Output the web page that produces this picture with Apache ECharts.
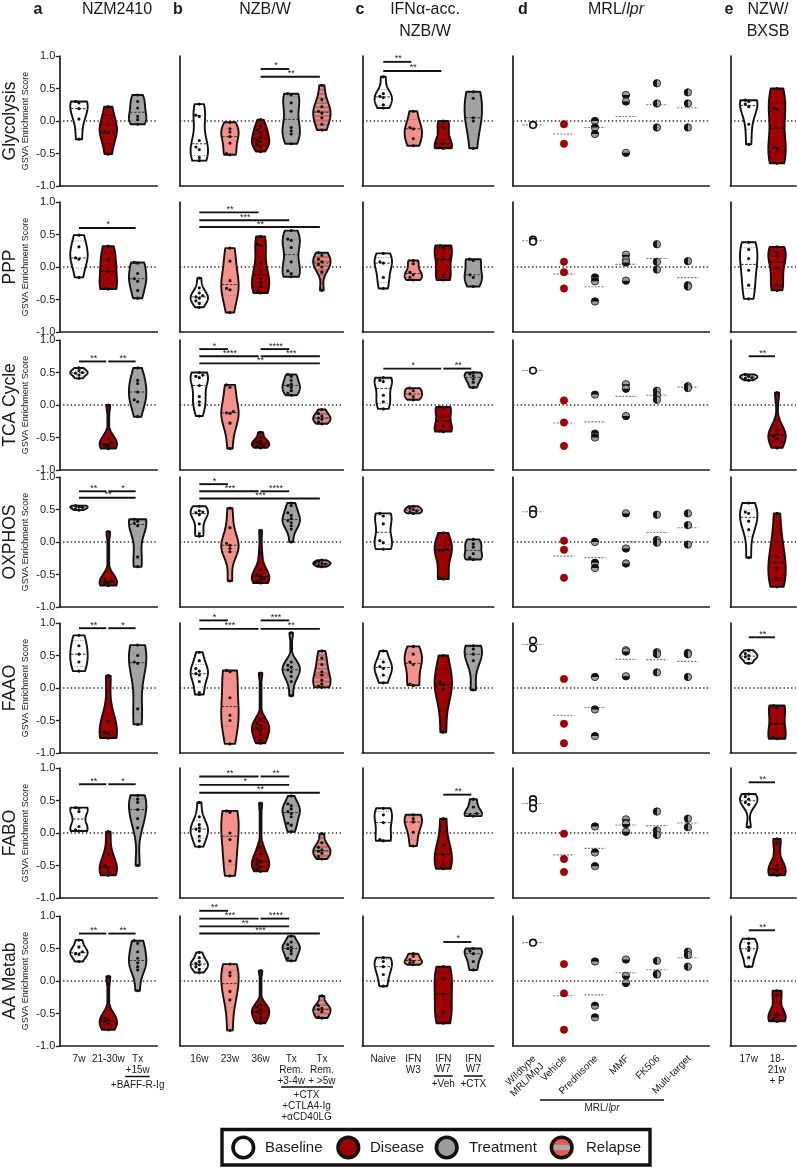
<!DOCTYPE html>
<html><head><meta charset="utf-8">
<script src="https://cdn.jsdelivr.net/npm/echarts/dist/echarts.min.js"></script>
<style>html,body{margin:0;padding:0;background:#fff}#c{width:797px;height:1168px}</style>
</head><body><div id="c"></div><script>
// ---------------- DATA ----------------
const rowNames = ['Glycolysis', 'PPP', 'TCA Cycle', 'OXPHOS', 'FAAO', 'FABO', 'AA Metab'];
const colHeaders = ['NZM2410', 'NZB/W', 'IFNα-acc.\nNZB/W', 'MRL/lpr', 'NZW/\nBXSB'];
const groupsA = ['7w', '21-30w', 'Tx'];
const groupsB = ['16w', '23w', '36w', 'Tx Rem. +3-4w', 'Tx Rem. + >5w'];
const groupsC = ['Naive', 'IFN W3', 'IFN W7 +Veh', 'IFN W7 +CTX'];
const groupsD = ['Wildtype MRL/MpJ', 'Vehicle', 'Prednisone', 'MMF', 'FK506', 'Multi-target'];
const groupsE = ['17w', '18-21w + P'];

// Glycolysis
const gly_a = [[0.30,0.28,0.19,0.03,-0.28],[0.22,-0.05,-0.17,-0.18,-0.51],[0.40,0.30,0.20,0.07,0.02,-0.05]];
const gly_b = [[0.26,0.09,0.07,-0.30,-0.40,-0.44,-0.56,-0.61],[-0.02,-0.12,-0.17,-0.24,-0.34,-0.50,-0.52],[0.02,-0.08,-0.14,-0.18,-0.24,-0.30,-0.32,-0.36,-0.40,-0.47],[0.42,0.40,0.28,0.15,-0.10,-0.15,-0.20,-0.35],[0.55,0.33,0.22,0.15,0.12,0.05,-0.05,-0.14]];
const gly_c = [[0.68,0.42,0.38,0.36,0.25,0.20],[0.15,-0.10,-0.12,-0.27,-0.38],[0.0,-0.10,-0.35,-0.40,-0.42],[0.45,0.35,0.05,0.0,-0.42]];
const gly_d = [[-0.06],[-0.05,-0.35],[0.0,-0.10,-0.20],[0.40,0.30,-0.49],[0.58,0.27,-0.10],[0.44,0.27,-0.10]];
const gly_e = [[0.32,0.30,0.26,0.22,-0.05,-0.36],[0.50,0.20,0.18,-0.40,-0.42,-0.65]];
// PPP
const ppp_a = [[0.49,0.31,0.14,0.12,-0.16],[0.32,0.11,-0.07,-0.33,-0.34],[0.07,0.06,-0.10,-0.18,-0.22,-0.36,-0.48]];
const ppp_b = [[-0.17,-0.32,-0.40,-0.44,-0.46,-0.48,-0.52,-0.56,-0.62],[0.29,0.09,-0.21,-0.33,-0.35,-0.70],[0.47,0.35,0.33,0.06,-0.06,-0.18,-0.24,-0.30,-0.38,-0.40],[0.56,0.43,0.41,0.30,0.08,-0.06,-0.10,-0.15],[0.22,0.18,0.12,0.08,0.04,0.0,-0.08,-0.36]];
const ppp_c = [[0.21,0.08,0.06,-0.16,-0.33],[0.10,0.05,-0.08,-0.12,-0.16,-0.20],[0.33,0.29,0.12,-0.12,-0.20],[0.12,0.10,-0.12,-0.16,-0.30]];
const ppp_d = [[0.42,0.39],[0.08,-0.08,-0.33],[-0.16,-0.22,-0.53],[0.19,0.11,0.07,-0.21],[0.35,0.08,-0.04],[0.09,-0.28,-0.30]];
const ppp_e = [[0.38,0.27,0.13,-0.05,-0.28,-0.49],[0.31,0.22,0.17,-0.02,-0.27,-0.36]];
// TCA Cycle
const tca_a = [[0.57,0.53,0.50,0.49,0.46,0.41],[0.0,-0.52,-0.58,-0.61,-0.62,-0.67],[0.57,0.38,0.33,0.20,0.08,0.05,-0.18]];
const tca_b = [[0.50,0.46,0.44,0.42,0.30,0.13,0.05,0.0,-0.17],[0.31,0.27,-0.10,-0.12,-0.13,-0.28,-0.67],[-0.42,-0.50,-0.55,-0.57,-0.60,-0.62,-0.64,-0.66],[0.47,0.44,0.38,0.32,0.30,0.27,0.22,0.18,0.15],[-0.07,-0.13,-0.17,-0.20,-0.22,-0.26,-0.29]];
const tca_c = [[0.42,0.38,0.36,0.15,0.05,-0.06],[0.26,0.22,0.17,0.13,0.08],[-0.03,-0.04,-0.17,-0.32,-0.40,-0.41],[0.50,0.48,0.45,0.40,0.35,0.27]];
const tca_d = [[0.53],[0.07,-0.27,-0.63],[0.16,-0.44,-0.50],[0.32,0.25,-0.17],[0.22,0.15,0.08],[0.29,0.26]];
const tca_e = [[0.47,0.45,0.44,0.42,0.41,0.38],[0.19,-0.38,-0.45,-0.48,-0.52,-0.66]];
// OXPHOS
const ox_a = [[0.56,0.55,0.54,0.53,0.51,0.49],[0.16,-0.58,-0.60,-0.62,-0.64,-0.67],[0.35,0.32,0.29,0.25,-0.23,-0.38]];
const ox_b = [[0.55,0.48,0.46,0.45,0.42,0.28,0.13,0.09],[0.52,0.22,-0.02,-0.05,-0.10,-0.15,-0.60],[0.18,-0.17,-0.42,-0.50,-0.53,-0.56,-0.58,-0.60,-0.63],[0.60,0.56,0.45,0.41,0.36,0.33,0.30,0.25,0.20,0.0],[-0.28,-0.30,-0.32,-0.33,-0.34,-0.36,-0.38]];
const ox_c = [[0.44,0.40,0.28,0.02,-0.01,-0.11],[0.55,0.52,0.50,0.48,0.46,0.44],[0.14,-0.11,-0.12,-0.13,-0.55,-0.57],[0.04,-0.03,-0.08,-0.18,-0.24,-0.27]];
const ox_d = [[0.50,0.43],[0.02,-0.12,-0.55],[0.0,-0.32,-0.40],[0.44,-0.10,-0.33],[0.42,0.03,-0.01],[0.44,0.26,-0.04]];
const ox_e = [[0.60,0.46,0.44,0.32,0.19,-0.24],[0.44,0.0,-0.23,-0.40,-0.56,-0.69]];
// FAAO
const faao_a = [[0.81,0.65,0.52,0.40,0.26],[0.19,-0.51,-0.68,-0.70,-0.77],[0.66,0.50,0.40,0.38,-0.32,-0.56]];
const faao_b = [[0.55,0.42,0.30,0.26,0.22,0.20,0.10,-0.07,-0.10],[0.27,0.25,-0.15,-0.42,-0.50,-0.86],[0.23,-0.48,-0.55,-0.58,-0.62,-0.66,-0.72,-0.80,-0.85],[0.85,0.40,0.35,0.32,0.28,0.25,0.18,0.10,-0.12],[0.57,0.46,0.36,0.25,0.20,0.12,0.06,0.03,0.01]];
const faao_c = [[0.57,0.40,0.33,0.30,0.20,0.08],[0.64,0.52,0.40,0.36,0.06,0.04],[0.50,0.09,0.05,-0.02,-0.68],[0.65,0.60,0.52,0.42,-0.03]];
const faao_d = [[0.73,0.61],[0.14,-0.55,-0.85],[0.17,-0.33,-0.74],[0.58,0.56,0.18],[0.55,0.52,0.24],[0.54,0.52,0.17]];
const faao_e = [[0.58,0.53,0.50,0.48,0.45,0.38],[-0.27,-0.30,-0.55,-0.76,-0.78]];
// FABO
const fabo_a = [[0.39,0.38,0.33,0.10,0.05,0.03],[0.02,-0.33,-0.51,-0.54,-0.60,-0.65],[0.58,0.52,0.47,0.36,0.22,0.08,-0.50]];
const fabo_b = [[0.47,0.25,0.13,0.08,0.06,0.03,-0.05,-0.12,-0.21],[0.34,0.32,0.0,-0.10,-0.43,-0.66],[0.46,-0.22,-0.32,-0.40,-0.44,-0.48,-0.52,-0.55,-0.59],[0.57,0.45,0.42,0.37,0.33,0.30,0.25,0.15,0.12,0.02],[-0.01,-0.15,-0.22,-0.26,-0.28,-0.31,-0.36,-0.40]];
const fabo_c = [[0.38,0.28,0.16,-0.10,-0.12],[0.28,0.22,0.17,0.01,-0.20],[0.22,-0.18,-0.33,-0.48,-0.55],[0.52,0.40,0.30,0.28,0.26]];
const fabo_d = [[0.52,0.46,0.38],[-0.01,-0.40,-0.60],[0.10,-0.30,-0.51],[0.21,0.14,0.02],[0.33,0.04,-0.03],[0.22,0.09]];
const fabo_e = [[0.60,0.56,0.52,0.47,0.44,0.09],[-0.09,-0.15,-0.50,-0.55,-0.58,-0.62,-0.65]];
// AA Metab
const aa_a = [[0.63,0.52,0.45,0.42,0.41,0.30],[0.07,-0.57,-0.60,-0.62,-0.66,-0.75],[0.62,0.58,0.45,0.35,0.28,0.22,0.17,-0.15]];
const aa_b = [[0.44,0.36,0.30,0.27,0.25,0.22,0.18,0.13],[0.26,0.13,0.08,-0.16,-0.29,-0.76],[0.16,-0.36,-0.40,-0.44,-0.47,-0.50,-0.55,-0.60,-0.65],[0.69,0.60,0.56,0.52,0.50,0.47,0.42,0.35,0.31],[-0.23,-0.38,-0.42,-0.44,-0.47,-0.55,-0.57]];
const aa_c = [[0.36,0.30,0.22,0.10,-0.08],[0.42,0.38,0.33,0.30,0.28,0.25],[0.22,0.04,-0.20,-0.48,-0.65],[0.50,0.46,0.42,0.30,0.17]];
const aa_d = [[0.59],[0.26,-0.19,-0.75],[0.30,-0.38,-0.56],[0.33,0.08,-0.03],[0.31,0.11,0.10],[0.45,0.40,0.22]];
const aa_e = [[0.65,0.58,0.52,0.47,0.36,0.22],[-0.15,-0.22,-0.50,-0.55,-0.58,-0.62]];

// significance brackets: [group1, group2, level, label]
const gly_b_sig = [[2,3,0.80,'*'],[2,4,0.68,'**']];
const gly_c_sig = [[0,1,0.91,'**'],[0,2,0.77,'**']];
const ppp_a_sig = [[0,2,0.60,'*']];
const ppp_b_sig = [[0,2,0.84,'**'],[0,3,0.72,'***'],[0,4,0.615,'**']];
const tca_a_sig = [[0,1,0.67,'**'],[1,2,0.67,'**']];
const tca_b_sig = [[0,1,0.86,'*'],[0,2,0.75,'****'],[0,4,0.64,'**'],[2,3,0.86,'****'],[2,4,0.75,'***']];
const tca_c_sig = [[0,2,0.56,'*'],[2,3,0.56,'**']];
const tca_e_sig = [[0,1,0.75,'**']];
const ox_a_sig = [[0,1,0.78,'**'],[1,2,0.78,'*'],[0,2,0.68,'**']];
const ox_b_sig = [[0,1,0.89,'*'],[0,2,0.78,'***'],[2,3,0.78,'****'],[0,4,0.67,'***']];
const faao_a_sig = [[0,1,0.92,'**'],[1,2,0.92,'*']];
const faao_b_sig = [[0,1,1.04,'*'],[0,2,0.91,'***'],[2,3,1.04,'***'],[2,4,0.91,'**']];
const faao_e_sig = [[0,1,0.78,'**']];
const fabo_a_sig = [[0,1,0.75,'**'],[1,2,0.75,'*']];
const fabo_b_sig = [[0,2,0.87,'**'],[2,3,0.87,'**'],[0,3,0.74,'*'],[0,4,0.62,'**']];
const fabo_c_sig = [[2,3,0.59,'**']];
const fabo_e_sig = [[0,1,0.78,'**']];
const aa_a_sig = [[0,1,0.73,'**'],[1,2,0.73,'**']];
const aa_b_sig = [[0,1,1.08,'**'],[0,2,0.96,'***'],[2,3,0.96,'****'],[0,3,0.84,'**'],[0,4,0.73,'***']];
const aa_c_sig = [[2,3,0.60,'*']];
const aa_e_sig = [[0,1,0.78,'**']];

const legendItems = ['Baseline', 'Disease', 'Treatment', 'Relapse'];

// ---------------- BUILD ----------------
const panels = [
  [gly_a, gly_b, gly_c, gly_d, gly_e],
  [ppp_a, ppp_b, ppp_c, ppp_d, ppp_e],
  [tca_a, tca_b, tca_c, tca_d, tca_e],
  [ox_a, ox_b, ox_c, ox_d, ox_e],
  [faao_a, faao_b, faao_c, faao_d, faao_e],
  [fabo_a, fabo_b, fabo_c, fabo_d, fabo_e],
  [aa_a, aa_b, aa_c, aa_d, aa_e]
];
const sigs = [
  [[], gly_b_sig, gly_c_sig, [], []],
  [ppp_a_sig, ppp_b_sig, [], [], []],
  [tca_a_sig, tca_b_sig, tca_c_sig, [], tca_e_sig],
  [ox_a_sig, ox_b_sig, [], [], []],
  [faao_a_sig, faao_b_sig, [], [], faao_e_sig],
  [fabo_a_sig, fabo_b_sig, fabo_c_sig, [], fabo_e_sig],
  [aa_a_sig, aa_b_sig, aa_c_sig, [], aa_e_sig]
];
const kinds = [
  ['base', 'dis', 'trt'],
  ['base', 'pink', 'dis', 'trt', 'rel'],
  ['base', 'pink', 'dis', 'trt'],
  ['wt', 'veh', 'hTB', 'hBT', 'hL', 'hL'],
  ['base', 'dis']
];
const FILL = { base: '#ffffff', dis: '#a00000', trt: '#a3a3a3', pink: '#f5908a', rel: '#ee5650' };
const STRIPE = '#a9a9a9';
const FONT = '"Liberation Sans", Arial, Helvetica, sans-serif';

const rowTop = [56, 202, 340, 477, 623, 768, 916];
const ROWH = 130;
const colX = [[59.3, 157.3], [180, 343.3], [362.3, 493.7], [513, 709.3], [730.3, 796]];
const xRange = [[-0.67, 2.67], [-0.63, 4.7], [-0.7, 3.68], [-0.645, 5.69], [-0.65, 1.67]];
const HW = 8.7, BW = 0.9;

function pct(s, p) {
  const n = s.length; let pos = p * (n + 1) - 1;
  pos = Math.max(0, Math.min(n - 1, pos));
  const lo = Math.floor(pos), f = pos - lo;
  return lo + 1 < n ? s[lo] + f * (s[lo + 1] - s[lo]) : s[lo];
}

function violinRender(groups, kds) {
  return function (params, api) {
    const i = params.dataIndex;
    const vals = groups[i].slice().sort((a, b) => a - b);
    const kind = kds[i];
    const cx = api.coord([i, 0])[0];
    const py = v => api.coord([i, v])[1];
    const ch = [];
    const n = vals.length, lo = vals[0], hi = vals[n - 1];
    const mean = vals.reduce((s, v) => s + v, 0) / n;
    const sd = Math.sqrt(vals.reduce((s, v) => s + (v - mean) * (v - mean), 0) / (n - 1));
    const iqr = pct(vals, 0.75) - pct(vals, 0.25);
    let sg = Math.min(sd, iqr / 1.34); if (!(sg > 0)) sg = sd;
    let h = Math.max(BW * sg * Math.pow(n, -0.2), 0.025);
    const dens = v => vals.reduce((s, x) => s + Math.exp(-0.5 * ((v - x) / h) * ((v - x) / h)), 0);
    const N = 60; let dmax = 0; const samp = [];
    for (let k = 0; k <= N; k++) { const v = lo + (hi - lo) * k / N; const d = dens(v); samp.push([v, d]); if (d > dmax) dmax = d; }
    const wAt = v => Math.max(0.9, HW * dens(v) / dmax);
    const pts = samp.map(([v, d]) => [cx + Math.max(0.9, HW * d / dmax), py(v)])
      .concat(samp.slice().reverse().map(([v, d]) => [cx - Math.max(0.9, HW * d / dmax), py(v)]));
    ch.push({ type: 'polygon', shape: { points: pts }, style: { fill: FILL[kind], stroke: null } });
    if (kind === 'rel') {
      const yTop = py(hi), yBot = py(lo);
      for (let y = yTop + 2.2; y < yBot - 1; y += 4.4) {
        const v = hi - (y - yTop) / (yBot - yTop) * (hi - lo);
        const w = wAt(v) - 0.8;
        if (w > 0.6) ch.push({ type: 'line', shape: { x1: cx - w, y1: y, x2: cx + w, y2: y }, style: { stroke: STRIPE, lineWidth: 2 } });
      }
    }
    const dark = (kind === 'dis');
    [[0.25, 'q'], [0.5, 'm'], [0.75, 'q']].forEach(([p, t]) => {
      const v = pct(vals, p); const w = wAt(v) - 0.6; const y = py(v);
      ch.push({ type: 'line', shape: { x1: cx - w, y1: y, x2: cx + w, y2: y },
        style: t === 'm' ? { stroke: dark ? '#111' : '#333', lineWidth: 1, lineDash: [2.5, 1.5] }
                         : { stroke: dark ? '#3a0000' : '#888', lineWidth: 1, lineDash: [1, 1.5] } });
    });
    ch.push({ type: 'polygon', shape: { points: pts }, style: { fill: null, stroke: '#111', lineWidth: 1.9, lineJoin: 'round' } });
    const placed = [];
    vals.forEach(v => {
      const y = py(v); const lim = Math.max(0, wAt(v) - 2);
      let off = 0;
      for (const o of [0, -3.4, 3.4, -6.8, 6.8]) {
        if (Math.abs(o) > lim + 0.5 && o !== 0) continue;
        if (placed.every(p => (p[0] - (cx + o)) ** 2 + (p[1] - y) ** 2 >= 10)) { off = o; break; }
      }
      placed.push([cx + off, y]);
      ch.push({ type: 'circle', shape: { cx: cx + off, cy: y, r: 1.6 }, style: { fill: '#111' } });
    });
    return { type: 'group', children: ch };
  };
}

function dotRender(groups, kds) {
  return function (params, api) {
    const i = params.dataIndex;
    const vals = groups[i];
    const kind = kds[i];
    const cx = api.coord([i, 0])[0];
    const py = v => api.coord([i, v])[1];
    const ch = [];
    const mean = vals.reduce((s, v) => s + v, 0) / vals.length;
    ch.push({ type: 'line', shape: { x1: cx - 10.5, y1: py(mean), x2: cx + 10.5, y2: py(mean) }, style: { stroke: '#7a7a7a', lineWidth: 1.1, lineDash: [2, 1.4] } });
    const R = 3.7;
    vals.forEach(v => {
      const y = py(v);
      if (kind === 'wt') {
        ch.push({ type: 'circle', shape: { cx, cy: y, r: R - 0.4 }, style: { fill: '#fff', stroke: '#111', lineWidth: 1.6 } });
      } else if (kind === 'veh') {
        ch.push({ type: 'circle', shape: { cx, cy: y, r: R }, style: { fill: '#a00000', stroke: '#900000', lineWidth: 0.6 } });
      } else {
        let a0, a1;
        if (kind === 'hTB') { a0 = Math.PI; a1 = 2 * Math.PI; }
        else if (kind === 'hBT') { a0 = 0; a1 = Math.PI; }
        else if (kind === 'hL') { a0 = Math.PI / 2; a1 = 3 * Math.PI / 2; }
        else { a0 = -Math.PI / 2; a1 = Math.PI / 2; }
        ch.push({ type: 'circle', shape: { cx, cy: y, r: R }, style: { fill: '#9c9c9c', stroke: null } });
        ch.push({ type: 'sector', shape: { cx, cy: y, r0: 0, r: R, startAngle: a0, endAngle: a1, clockwise: true }, style: { fill: '#111' } });
        ch.push({ type: 'circle', shape: { cx, cy: y, r: R }, style: { fill: null, stroke: '#111', lineWidth: 0.8 } });
      }
    });
    return { type: 'group', children: ch };
  };
}

function sigRender(list) {
  return function (params, api) {
    const s = list[params.dataIndex];
    const p1 = api.coord([s[0], s[2]]), p2 = api.coord([s[1], s[2]]);
    return { type: 'group', children: [
      { type: 'line', shape: { x1: p1[0], y1: p1[1], x2: p2[0] - 2, y2: p2[1] }, style: { stroke: '#111', lineWidth: 1.9 } },
      { type: 'text', x: (p1[0] + p2[0]) / 2, y: p1[1] + 1.5, style: { text: s[3], fontSize: 9, fontFamily: FONT, fill: '#222', align: 'center', textAlign: 'center', verticalAlign: 'bottom', textVerticalAlign: 'bottom' } }
    ] };
  };
}

const grid = [], xAxis = [], yAxis = [], series = [];
let gi = 0;
for (let r = 0; r < 7; r++) {
  for (let c = 0; c < 5; c++) {
    const [l, rr] = colX[c];
    grid.push({ left: l, top: rowTop[r], width: rr - l, height: ROWH, containLabel: false });
    xAxis.push({ gridIndex: gi, type: 'value', min: xRange[c][0], max: xRange[c][1],
      axisLine: { show: true, onZero: false, lineStyle: { color: '#1e1e1e', width: 1.7 } },
      axisTick: { show: false }, axisLabel: { show: false }, splitLine: { show: false } });
    yAxis.push({ gridIndex: gi, type: 'value', min: -1, max: 1, interval: 0.5,
      axisLine: { show: true, onZero: false, lineStyle: { color: '#1e1e1e', width: 1.7 } },
      axisTick: { show: c === 0, length: 3.5, lineStyle: { width: 1.3, color: '#1e1e1e' } },
      axisLabel: { show: c === 0, formatter: v => v.toFixed(1), fontSize: 11, fontFamily: FONT, color: '#222', margin: 4 },
      splitLine: { show: false } });
    series.push({ type: 'line', xAxisIndex: gi, yAxisIndex: gi, data: [[xRange[c][0], 0], [xRange[c][1], 0]],
      symbol: 'none', silent: true, z: 1, lineStyle: { color: '#333', width: 1.3, type: [1.4, 2.4] } });
    const groups = panels[r][c];
    series.push({ type: 'custom', xAxisIndex: gi, yAxisIndex: gi, z: 3, silent: true,
      data: groups.map((g, i) => [i, 0]), encode: { x: 0, y: 1 },
      renderItem: c === 3 ? dotRender(groups, kinds[c]) : violinRender(groups, kinds[c]) });
    const sl = sigs[r][c];
    if (sl.length) series.push({ type: 'custom', xAxisIndex: gi, yAxisIndex: gi, z: 4, silent: true,
      data: sl.map(s => [s[0], s[2]]), encode: { x: 0, y: 1 }, renderItem: sigRender(sl) });
    gi++;
  }
}

// ---------------- TEXT / ANNOTATION GRAPHICS ----------------
const el = [];
function T(x, y, text, o = {}) {
  el.push({ type: 'text', x, y, rotation: o.rot || 0, z: 50, silent: true,
    style: { text, x: 0, y: 0, fontSize: o.size || 10, fontFamily: FONT, fontWeight: o.bold ? 'bold' : 'normal',
      fill: o.color || '#1a1a1a', align: o.align || 'center', textAlign: o.align || 'center',
      verticalAlign: o.va || 'middle', textVerticalAlign: o.va || 'middle', rich: o.rich } });
}
function L(x1, y1, x2, y2, w) { el.push({ type: 'line', z: 50, silent: true, shape: { x1, y1, x2, y2 }, style: { stroke: '#111', lineWidth: w || 1.7 } }); }
function gx(c, i) { const [l, r] = colX[c]; const [mn, mx] = xRange[c]; return l + (i - mn) / (mx - mn) * (r - l); }
const italicRich = { i: { fontStyle: 'italic', fontSize: 16, fontFamily: FONT, fill: '#1a1a1a' } };

// column headers
T(38, 10, 'a', { size: 16, bold: true }); T(117, 10, colHeaders[0], { size: 16 });
T(178, 10, 'b', { size: 16, bold: true }); T(265, 10, colHeaders[1], { size: 16 });
T(360, 10, 'c', { size: 16, bold: true });
colHeaders[2].split('\n').forEach((s, k) => T(425, 10 + 22 * k, s, { size: 16 }));
T(523, 10, 'd', { size: 16, bold: true }); T(616, 10, 'MRL/{i|lpr}', { size: 16, rich: italicRich });
T(729, 10, 'e', { size: 16, bold: true });
colHeaders[4].split('\n').forEach((s, k) => T(768, 10 + 22 * k, s, { size: 16 }));

// row labels
rowNames.forEach((nm, r) => {
  T(10, rowTop[r] + 65, nm, { size: 17.5, rot: Math.PI / 2 });
  T(25.5, rowTop[r] + 65, 'GSVA Enrichment Score', { size: 9, rot: Math.PI / 2 });
});

// x labels
const LY = 1059, LH = 11;
// a
T(gx(0, 0), LY, groupsA[0]); T(gx(0, 1), LY, groupsA[1]); T(gx(0, 2), LY, 'Tx');
T(gx(0, 2), LY + LH, '+15w'); L(gx(0, 2) - 12.5, 1076.5, gx(0, 2) + 12, 1076.5, 1.5); T(gx(0, 2), 1085, '+BAFF-R-Ig');
// b
T(gx(1, 0), LY, groupsB[0]); T(gx(1, 1), LY, groupsB[1]); T(gx(1, 2), LY, groupsB[2]);
[['Tx', 'Rem.', '+3-4w'], ['Tx', 'Rem.', '+ >5w']].forEach((ls, k) => ls.forEach((s, j) => T(gx(1, 3 + k), LY + j * LH, s)));
const bm = (gx(1, 3) + gx(1, 4)) / 2;
L(gx(1, 3) - 10, 1087, gx(1, 4) + 11, 1087, 1.5);
['+CTX', '+CTLA4-Ig', '+αCD40LG'].forEach((s, j) => T(bm, 1095 + j * LH, s));
// c
T(gx(2, 0), LY, groupsC[0]); T(gx(2, 1), LY, 'IFN'); T(gx(2, 1), LY + LH, 'W3');
[['+Veh'], ['+CTX']].forEach((s, k) => {
  const x = gx(2, 2 + k);
  T(x, LY, 'IFN'); T(x, LY + LH - 1, 'W7'); L(x - 9.5, 1076, x + 9.5, 1076, 1.5); T(x, 1084.5, s[0]);
});
// d (rotated)
const dLines = [['Wildtype', 'MRL/MpJ'], ['Vehicle'], ['Prednisone'], ['MMF'], ['FK506'], ['Multi-target']];
dLines.forEach((ls, i) => ls.forEach((s, j) => T(gx(3, i) + 1.5 + j * 7.8, 1057 + j * 7.8, s, { rot: Math.PI / 4, align: 'right' })));
L(540, 1100, 664, 1100, 1.7);
T(602, 1108, 'MRL/{i|lpr}', { size: 10, rich: { i: { fontStyle: 'italic', fontSize: 10, fontFamily: FONT, fill: '#1a1a1a' } } });
// e
T(gx(4, 0), LY, groupsE[0]);
['18-', '21w', '+ P'].forEach((s, j) => T(gx(4, 1), LY + j * LH, s));

// legend
el.push({ type: 'rect', z: 49, silent: true, shape: { x: 222, y: 1129.5, width: 428, height: 35.5 }, style: { fill: '#fff', stroke: '#111', lineWidth: 3.4 } });
const legX = [243.3, 348.3, 446.7, 561.7], legTX = [265, 370, 469, 586], LCY = 1147.5, LR = 10.3;
const legFill = ['#ffffff', '#a00000', '#9c9c9c', '#ee5650'];
legendItems.forEach((nm, k) => {
  el.push({ type: 'circle', z: 50, silent: true, shape: { cx: legX[k], cy: LCY, r: LR }, style: { fill: legFill[k], stroke: null } });
  if (k === 3) el.push({ type: 'rect', z: 51, silent: true, shape: { x: legX[k] - 9, y: LCY - 2.6, width: 18, height: 5.2 }, style: { fill: STRIPE } });
  el.push({ type: 'circle', z: 52, silent: true, shape: { cx: legX[k], cy: LCY, r: LR }, style: { fill: null, stroke: '#111', lineWidth: 3.6 } });
  T(legTX[k], LCY, nm, { size: 15, align: 'left' });
});

const chart = echarts.init(document.getElementById('c'), null, { renderer: 'canvas' });
chart.setOption({ animation: false, backgroundColor: '#fff', grid, xAxis, yAxis, series, graphic: { elements: el } });
</script></body></html>
